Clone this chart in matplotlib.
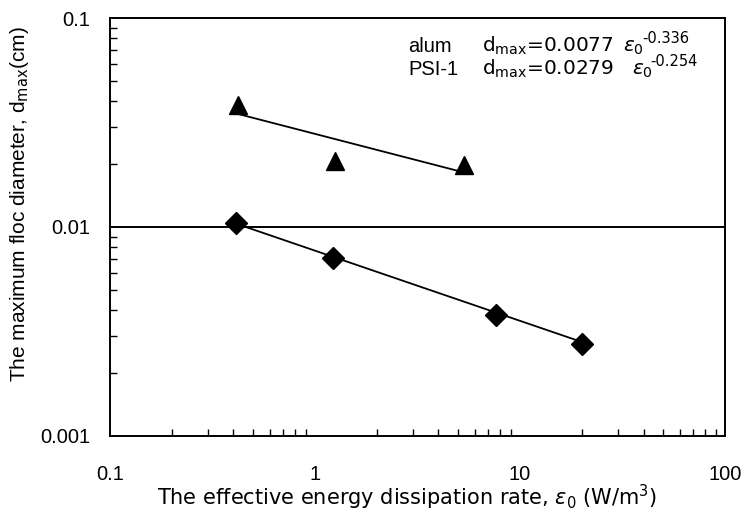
import matplotlib
matplotlib.use("Agg")
import matplotlib.pyplot as plt
import numpy as np

plt.rcParams['font.family'] = ['Liberation Sans', 'DejaVu Sans']
plt.rcParams['mathtext.fontset'] = 'dejavusans'

# alum (diamonds)
alum_eps = [0.41, 1.22, 7.6, 20.0]
alum_d = [0.0105, 0.0071, 0.0038, 0.00275]
alum_coef, alum_exp = 0.0077, -0.336
alum_fit_x = [0.41, 20.0]

# PSI-1 (triangles)
psi_eps = [0.42, 1.25, 5.3]
psi_d = [0.0385, 0.0207, 0.0198]
psi_coef, psi_exp = 0.0279, -0.254
psi_fit_x = [0.42, 4.95]

fig = plt.figure(figsize=(7.43, 5.17), dpi=100)
ax = fig.add_axes([0.148, 0.157, 0.828, 0.808])

ax.set_xscale('log')
ax.set_yscale('log')
ax.set_xlim(0.1, 100)
ax.set_ylim(0.001, 0.1)

ax.axhline(0.01, color='black', lw=1.4)

fx = np.array(alum_fit_x)
ax.plot(fx, alum_coef * fx ** alum_exp, color='black', lw=1.3)
fx = np.array(psi_fit_x)
ax.plot(fx, psi_coef * fx ** psi_exp, color='black', lw=1.3)

ax.plot(alum_eps, alum_d, 'D', color='black', ms=11.5, zorder=3)
ax.plot(psi_eps, psi_d, '^', color='black', ms=13, zorder=3)

ax.set_xticks([0.1, 1, 10, 100])
ax.set_xticklabels(['0.1', '1', '10', '100'])
ax.set_yticks([0.001, 0.01, 0.1])
ax.set_yticklabels(['0.001', '0.01', '0.1'])
ax.tick_params(which='major', direction='in', length=0, labelsize=14.5, pad=14)
ax.tick_params(axis='x', which='major', pad=21)
ax.tick_params(which='minor', direction='in', length=5, width=1)
ax.tick_params(top=False, right=False, which='both')

for s in ax.spines.values():
    s.set_linewidth(1.4)

ax.set_xlabel(r'The effective energy dissipation rate, $\varepsilon_0$ (W/m$^3$)',
              fontsize=15, family='DejaVu Sans', labelpad=0)
ax.xaxis.set_label_coords(0.483, -0.112)
ax.set_ylabel(r'The maximum floc diameter, d$_{\mathrm{max}}$(cm)', fontsize=15)
ax.yaxis.set_label_coords(-0.128, 0.555)

# fit equations, placed piece by piece
eq_rows = [('alum', '0.0077', '-0.336'), ('PSI-1', '0.0279', '-0.254')]
row_y = [0.919, 0.864]
eps_x = [0.834, 0.848]
for (name, coef, expo), y, ex in zip(eq_rows, row_y, eps_x):
    ax.text(0.485, y, name, transform=ax.transAxes, fontsize=14.5, va='baseline')
    ax.text(0.605, y, r'd$_{\mathrm{max}}$=' + coef, transform=ax.transAxes,
            fontsize=14.5, family='DejaVu Sans', va='baseline')
    ax.text(ex, y, r'$\varepsilon_0$', transform=ax.transAxes, fontsize=14.5, va='baseline')
    ax.text(ex + 0.031, y + 0.022, expo, transform=ax.transAxes,
            fontsize=10.5, family='DejaVu Sans', va='baseline')

fig.savefig('out.png', dpi=100)
